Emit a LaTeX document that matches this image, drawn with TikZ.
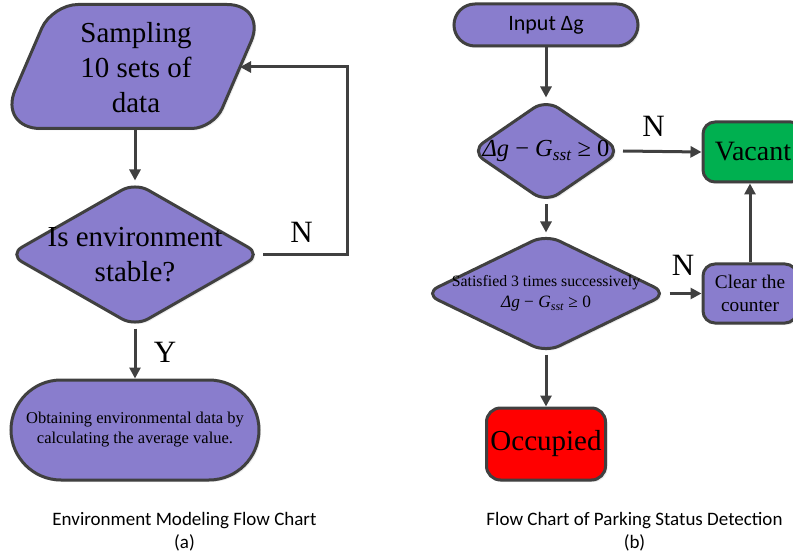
\documentclass[tikz,border=0pt]{standalone}
\usepackage{fontspec}
\setmainfont{Liberation Serif}
\newfontfamily\capfont{Carlito}
\usetikzlibrary{shapes.geometric,arrows.meta,shadows}

\definecolor{boxpurple}{RGB}{137,125,205}
\definecolor{boxgreen}{RGB}{0,176,80}
\definecolor{boxred}{RGB}{255,0,0}
\definecolor{edgegray}{RGB}{64,64,64}

% threshold condition used in both decision boxes
\newcommand{\gexpr}{{\itshape Δg} − {\itshape G}\textsubscript{\itshape sst} ≥ 0}
\newcommand{\fsz}[2]{\fontsize{#1}{#2}\selectfont}

\begin{document}
\begin{tikzpicture}[x=1pt,y=-1pt,
  outlined/.style={draw=edgegray, line width=3pt, fill=boxpurple,
    drop shadow={shadow xshift=2pt, shadow yshift=-2pt, opacity=0.15}},
  decision/.style={outlined, shape=diamond, inner sep=0pt, rounded corners=15pt},
  roundbox/.style={outlined, shape=rectangle, inner sep=0pt, align=center},
  plaintext/.style={inner sep=0pt, align=center, text=black},
  flowarrow/.style={draw=edgegray, line width=3pt, -{Triangle[length=11pt,width=11pt]}},
  branch/.style={plaintext, font=\fsz{31}{35}}
]
\useasboundingbox (0,0) rectangle (793,556);

% ---------- (a) environment modelling ----------
% slanted input box; acute corners get a longer rounding than obtuse ones
\path[outlined]
  (106,128.5) [rounded corners=42pt] -- (-1.5,128.5)
  [rounded corners=26pt] -- (52,4.5)
  [rounded corners=40pt] -- (267,4.5)
  [rounded corners=22pt] -- (213.5,128.5) -- cycle;
\coordinate (samp-s) at (135,128.5);
\coordinate (samp-e) at (240,67);
\node[plaintext, font=\fsz{29}{35}] (samp) at (136,68) {Sampling\\10 sets of\\data};

\node[decision, minimum width=253pt, minimum height=145pt] (stab) at (135,254.5) {};
\node[plaintext, font=\fsz{29}{35}] (stabt) at (stab.center) {Is environment\\stable?};

\node[roundbox, rounded corners=50pt, minimum width=248pt, minimum height=100pt,
      font=\fsz{16.5}{20}] (avg) at (135,430)
  {Obtaining environmental data by\\calculating the average value.};

\coordinate (loop-top) at (347,67);
\draw[flowarrow] (samp-s) -- (stab.north);
\draw[flowarrow] (stab.east) -| (loop-top) -- (samp-e);
\draw[flowarrow] (stab.south) -- (avg.north);
\node[branch] (na) at (301.5,232) {N};
\node[branch] (ya) at (165,352) {Y};

\node[plaintext, font=\capfont\fsz{19}{23}] (capa) at (184.5,531.5)
  {Environment Modeling Flow Chart\\(a)};

% ---------- (b) parking status detection ----------
\node[roundbox, rounded corners=21pt, minimum width=184pt, minimum height=42pt,
      font=\capfont\fsz{22}{26}] (inp) at (546,25) {Input Δg};

\node[decision, minimum width=151pt, minimum height=104pt] (d1) at (546,151) {};
\node[plaintext, font=\fsz{24.5}{28}] (d1t) at (d1.center) {\gexpr};

\node[decision, minimum width=244pt, minimum height=119pt] (d2) at (546,293.5) {};
\node[plaintext, font=\fsz{15.8}{21}] (d2t) at (d2.center)
  {Satisfied 3 times successively\\{\fsz{17.3}{21}\gexpr}};

\node[roundbox, fill=boxgreen, rounded corners=12pt, minimum width=100pt,
      minimum height=60pt, font=\fsz{28}{32}] (vac) at (753,152) {Vacant};
\node[roundbox, rounded corners=12pt, minimum width=94pt, minimum height=59pt,
      font=\fsz{19.3}{23}] (clr) at (750,293.5) {Clear the\\counter};
\node[roundbox, fill=boxred, rounded corners=14pt, minimum width=119pt,
      minimum height=72pt, font=\fsz{29}{33}] (occ) at (546,444) {Occupied};

\draw[flowarrow] (inp.south) -- (d1.north);
\draw[flowarrow] (d1.east) -- (vac.west);
\draw[flowarrow] (d1.south) -- (d2.north);
\draw[flowarrow] (d2.east) -- (clr.west);
\draw[flowarrow] (clr.north) -- (clr.north |- vac.south);
\draw[flowarrow] (d2.south) -- (occ.north);
\node[branch] (nb1) at (653.5,126.5) {N};
\node[branch] (nb2) at (683,265) {N};

\node[plaintext, font=\capfont\fsz{19}{23}] (capb) at (634.5,532)
  {Flow Chart of Parking Status Detection\\(b)};
\end{tikzpicture}
\end{document}
